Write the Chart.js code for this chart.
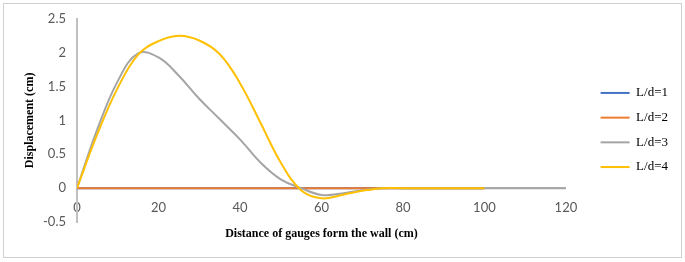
<!DOCTYPE html>
<html>
<head>
<meta charset="utf-8">
<script src="https://cdn.jsdelivr.net/npm/chart.js@4.4.1/dist/chart.umd.min.js"></script>
<style>
    body { margin: 0; background: #fff; }
    #wrap { position: relative; width: 685px; height: 262px; }
    #frame { position: absolute; left: 3px; top: 3px; width: 677px; height: 253px; border: 1px solid #d0d0d0; }
    canvas { position: absolute; left: 0; top: 0; }
</style>
</head>
<body>
<div id="wrap">
    <div id="frame"></div>
    <canvas id="chart" width="685" height="262"></canvas>
</div>
<script>
// distance of gauges from the wall (cm)
const distance = [0, 5, 10, 15, 20, 25, 30, 35, 40, 45, 50, 55, 60, 65, 70, 75, 80, 85, 90, 95, 100, 105, 110, 115, 120]

// displacement (cm) per L/d ratio
const ld1 = [0, 0, 0, 0, 0, 0, 0, 0, 0, 0, 0, 0, 0, 0, 0, 0, 0, 0, 0, 0, 0]
const ld2 = [0, 0, 0, 0, 0, 0, 0, 0, 0, 0, 0, 0, 0, 0, 0, 0, 0, 0, 0, 0, 0]
const ld3 = [0, 0.87, 1.58, 1.99, 1.93, 1.66, 1.32, 1.02, 0.72, 0.38, 0.13, 0, -0.1, -0.08, -0.03, 0, 0, 0, 0, 0, 0, 0, 0, 0, 0]
const ld4 = [0, 0.8, 1.48, 1.97, 2.17, 2.25, 2.18, 1.98, 1.55, 0.97, 0.38, -0.03, -0.15, -0.1, -0.04, 0, 0, 0, 0, 0, 0]

const seriesNames = ["L/d=1", "L/d=2", "L/d=3", "L/d=4"]
const seriesColors = ["#4472C4", "#ED7D31", "#A5A5A5", "#FFC000"]
const seriesValues = [ld1, ld2, ld3, ld4]

const tickFont = { family: 'Lato, "Open Sans", sans-serif', size: 13 }
const serif = '"Liberation Serif", "Times New Roman", serif'

const datasets = seriesValues.map((vals, i) => ({
    label: seriesNames[i],
    data: vals.map((v, j) => ({ x: distance[j], y: v })),
    borderColor: seriesColors[i],
    backgroundColor: seriesColors[i],
    borderWidth: 2,
    pointRadius: 0,
    tension: 0.4,
    fill: false,
    order: 4 - i
}))

const ctx = document.getElementById('chart').getContext('2d')
new Chart(ctx, {
    type: 'line',
    data: { datasets: datasets },
    options: {
        responsive: false,
        animation: false,
        layout: { padding: { left: 10, right: 7, top: 18, bottom: 20 } },
        scales: {
            x: {
                type: 'linear',
                position: { y: 0 },
                min: 0,
                max: 120,
                ticks: { stepSize: 20, padding: 12, color: '#595959', font: tickFont },
                grid: { display: false, drawTicks: false },
                border: { color: '#c0c0c0', width: 1.5 }
            },
            x2: {
                type: 'linear',
                axis: 'x',
                position: 'bottom',
                min: 0,
                max: 120,
                ticks: { display: false },
                grid: { display: false, drawTicks: false },
                border: { display: false },
                title: {
                    display: true,
                    text: 'Distance of gauges form the wall (cm)',
                    color: '#000',
                    font: { family: serif, size: 12, weight: 'bold' },
                    padding: { top: 0, bottom: 1 }
                },
                afterFit: (s) => { s.height = 20 }
            },
            y: {
                min: -0.5,
                max: 2.5,
                ticks: {
                    stepSize: 0.5,
                    padding: 11,
                    color: '#595959',
                    font: tickFont,
                    callback: (v) => String(v)
                },
                grid: { display: false, drawTicks: false },
                border: { color: '#c0c0c0', width: 2 },
                title: {
                    display: true,
                    text: 'Displacement (cm)',
                    color: '#000',
                    font: { family: serif, size: 12, weight: 'bold' },
                    padding: { top: 13, bottom: 0 }
                },
                afterFit: (s) => { s.width = 67 }
            },
            gap: {
                type: 'linear',
                axis: 'y',
                position: 'right',
                ticks: { display: false },
                grid: { display: false, drawTicks: false },
                border: { display: false },
                afterFit: (s) => { s.width = 23 }
            }
        },
        plugins: {
            tooltip: { enabled: false },
            legend: {
                position: 'right',
                labels: {
                    sort: (a, b) => a.datasetIndex - b.datasetIndex,
                    usePointStyle: true,
                    pointStyle: 'line',
                    pointStyleWidth: 29,
                    padding: 11.7,
                    color: '#000',
                    font: { family: serif, size: 13 }
                }
            }
        }
    }
})
</script>
</body>
</html>
